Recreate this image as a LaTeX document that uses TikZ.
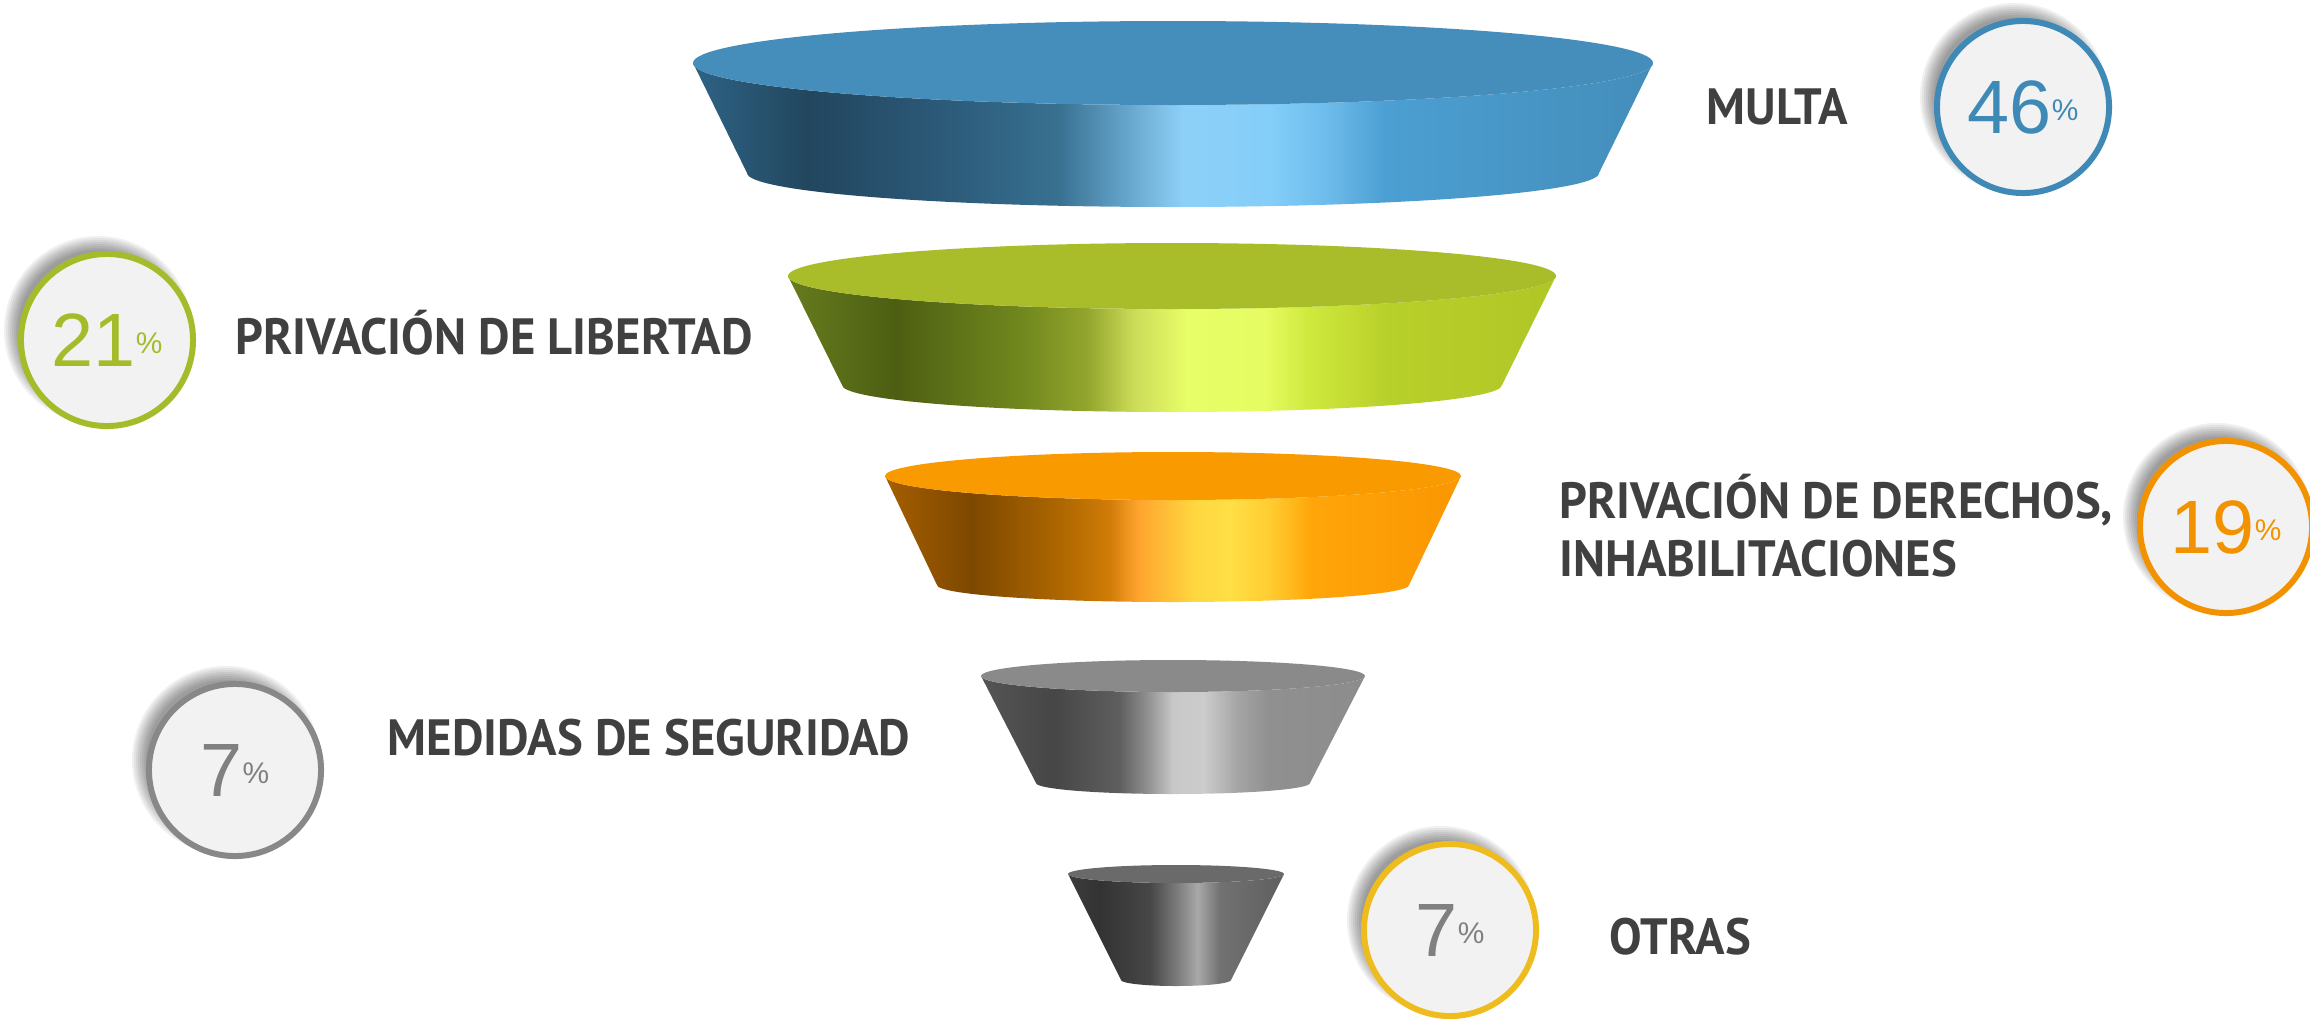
\documentclass[tikz,border=0pt]{standalone}
\usepackage{fontspec}
\usepackage{xcolor}
\usetikzlibrary{backgrounds}

\newfontfamily\lblfont[FakeStretch=0.955]{PT Sans}
\newfontfamily\numfont{Liberation Sans}
\newcommand\pcsign{{\fontsize{8.5}{8.5}\selectfont\raisebox{3.7pt}{\%}}}

\definecolor{txtgray}{HTML}{404040}
\definecolor{circfill}{HTML}{F2F2F2}
\definecolor{multablue}{HTML}{3F89B6}
\definecolor{libgreen}{HTML}{A5BB2A}
\definecolor{derorange}{HTML}{F39200}
\definecolor{medgray}{HTML}{888888}
\definecolor{otryellow}{HTML}{EEBC1D}
\definecolor{numgray}{HTML}{808080}
\definecolor{topblue}{HTML}{458EBB}
\definecolor{topgreen}{HTML}{A9BD2A}
\definecolor{toporange}{HTML}{F89A00}
\definecolor{topgray}{HTML}{8A8A8A}
\definecolor{topdark}{HTML}{6A6A6A}

% side shadings, 25bp..75bp = left..right edge
\pgfdeclarehorizontalshading{blueside}{100bp}{rgb(0bp)=(0.184,0.388,0.522); rgb(25bp)=(0.184,0.388,0.522);
  rgb(31bp)=(0.133,0.275,0.369); rgb(37.5bp)=(0.169,0.345,0.467); rgb(44bp)=(0.220,0.439,0.565);
  rgb(47bp)=(0.369,0.612,0.761); rgb(50.5bp)=(0.553,0.816,0.969); rgb(55bp)=(0.518,0.808,0.980);
  rgb(58bp)=(0.427,0.737,0.922); rgb(61bp)=(0.298,0.624,0.824); rgb(75bp)=(0.263,0.553,0.729);
  rgb(100bp)=(0.263,0.553,0.729)}
\pgfdeclarehorizontalshading{greenside}{100bp}{rgb(0bp)=(0.4,0.486,0.118); rgb(25bp)=(0.4,0.486,0.118);
  rgb(32bp)=(0.302,0.369,0.071); rgb(40.5bp)=(0.447,0.537,0.118); rgb(44.5bp)=(0.576,0.647,0.173);
  rgb(47.5bp)=(0.796,0.859,0.345); rgb(51bp)=(0.910,0.996,0.408); rgb(56bp)=(0.902,0.988,0.384);
  rgb(59bp)=(0.812,0.910,0.235); rgb(64bp)=(0.722,0.816,0.165); rgb(75bp)=(0.690,0.776,0.149);
  rgb(100bp)=(0.690,0.776,0.149)}
\pgfdeclarehorizontalshading{orangeside}{100bp}{rgb(0bp)=(0.651,0.369,0); rgb(25bp)=(0.651,0.369,0);
  rgb(32.5bp)=(0.490,0.282,0); rgb(40.5bp)=(0.690,0.408,0); rgb(44.5bp)=(0.816,0.486,0.031);
  rgb(47bp)=(1,0.647,0.180); rgb(52bp)=(1,0.847,0.251); rgb(55bp)=(1,0.871,0.275);
  rgb(58.5bp)=(1,0.8,0.188); rgb(62bp)=(1,0.647,0.039); rgb(75bp)=(0.980,0.588,0);
  rgb(100bp)=(0.980,0.588,0)}
\pgfdeclarehorizontalshading{grayside}{100bp}{gray(0bp)=(0.333); gray(25bp)=(0.333);
  gray(34.5bp)=(0.275); gray(43bp)=(0.369); gray(46.5bp)=(0.557); gray(50bp)=(0.784);
  gray(54bp)=(0.8); gray(58.5bp)=(0.643); gray(62.5bp)=(0.565); gray(75bp)=(0.549); gray(100bp)=(0.549)}
\pgfdeclarehorizontalshading{darkside}{100bp}{gray(0bp)=(0.235); gray(25bp)=(0.235);
  gray(32.5bp)=(0.2); gray(44bp)=(0.278); gray(50bp)=(0.478); gray(55bp)=(0.659);
  gray(60bp)=(0.447); gray(75bp)=(0.369); gray(100bp)=(0.369)}

\begin{document}
\begin{tikzpicture}[
  x=0.01cm, y=0.01cm,
  pct/.style={circle, draw, line width=1.7pt, fill=circfill, minimum size=1.72cm, inner sep=0pt,
    font=\numfont\fontsize{21.5}{21.5}\selectfont},
  lbl/.style={anchor=base west, inner sep=0pt, text=txtgray,
    font=\lblfont\bfseries\fontsize{14.5}{16}\selectfont},
]
  \useasboundingbox (0,0) rectangle (2310,-1018);

  % Funnel
  \shade[shading=blueside] (693,-63) -- (747,-173) arc[start angle=180, end angle=360, x radius=426, y radius=34]
    -- (1653,-63) arc[start angle=0, end angle=-180, x radius=480, y radius=42] -- cycle;
  \fill[topblue] (1173,-63) ellipse[x radius=480, y radius=42];

  \shade[shading=greenside] (788,-276) -- (842,-385) arc[start angle=180, end angle=360, x radius=330, y radius=27]
    -- (1556,-276) arc[start angle=0, end angle=-180, x radius=384, y radius=33] -- cycle;
  \fill[topgreen] (1172,-276) ellipse[x radius=384, y radius=33];

  \shade[shading=orangeside] (885,-476) -- (937,-585) arc[start angle=180, end angle=360, x radius=236, y radius=17]
    -- (1461,-476) arc[start angle=0, end angle=-180, x radius=288, y radius=24] -- cycle;
  \fill[toporange] (1173,-476) ellipse[x radius=288, y radius=24];

  \shade[shading=grayside] (981,-676) -- (1036,-783) arc[start angle=180, end angle=360, x radius=137, y radius=11]
    -- (1365,-676) arc[start angle=0, end angle=-180, x radius=192, y radius=16] -- cycle;
  \fill[topgray] (1173,-676) ellipse[x radius=192, y radius=16];

  \shade[shading=darkside] (1068,-874) -- (1121,-980) arc[start angle=180, end angle=360, x radius=55, y radius=6]
    -- (1284,-874) arc[start angle=0, end angle=-180, x radius=108, y radius=9] -- cycle;
  \fill[topdark] (1176,-874) ellipse[x radius=108, y radius=9];

  % Percent circles
  \node[pct, draw=multablue, text=multablue] (c46) at (2023,-107) {46\pcsign};
  \node[pct, draw=libgreen, text=libgreen] (c21) at (107,-340) {21\pcsign};
  \node[pct, draw=derorange, text=derorange] (c19) at (2226,-527) {19\pcsign};
  \node[pct, draw=medgray, text=numgray] (c7a) at (235,-770) {7\pcsign};
  \node[pct, draw=otryellow, text=numgray] (c7b) at (1450,-930) {7\pcsign};

  % Soft shadows behind the circles
  \begin{scope}[on background layer]
    \foreach \c in {c46,c21,c19,c7a,c7b}
      \foreach \s in {0,...,7}
        \fill[black, opacity=0.06] ([shift={(-9,10)}]\c.center) circle[radius=80+2*\s];
  \end{scope}

  % Labels
  \node[lbl] (multa) at (1706,-124) {MULTA};
  \node[lbl] (libertad) at (235,-354) {PRIVACIÓN DE LIBERTAD};
  \node[lbl] (derechos) at (1559,-518) {PRIVACIÓN DE DERECHOS,};
  \node[lbl] (inhab) at (1559,-576) {INHABILITACIONES};
  \node[lbl] (medidas) at (387,-755) {MEDIDAS DE SEGURIDAD};
  \node[lbl] (otras) at (1609,-954) {OTRAS};
\end{tikzpicture}
\end{document}
